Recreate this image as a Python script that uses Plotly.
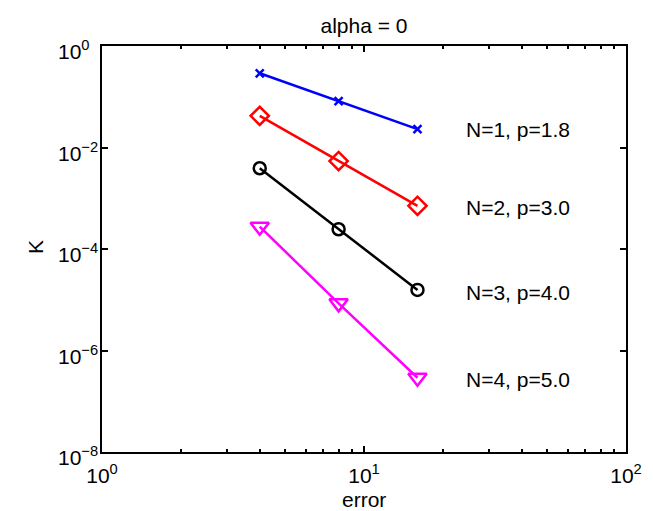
import plotly.graph_objects as go
import math

# ---- data ----
error = [4, 8, 16]
K_N1 = [0.29, 0.082, 0.023]
K_N2 = [0.042, 0.0054, 7.1e-4]
K_N3 = [3.9e-3, 2.45e-4, 1.56e-5]
K_N4 = [2.75e-4, 8.5e-6, 2.9e-7]
series_labels = ["N=1, p=1.8", "N=2, p=3.0", "N=3, p=4.0", "N=4, p=5.0"]
x_tick_vals = [1, 10, 100]
x_tick_text = ["10<sup>0</sup>", "10<sup>1</sup>", "10<sup>2</sup>"]
y_tick_vals = [1, 1e-2, 1e-4, 1e-6, 1e-8]
y_tick_text = ["10<sup>0</sup>", "10<sup>−2</sup>", "10<sup>−4</sup>", "10<sup>−6</sup>", "10<sup>−8</sup>"]
title_text = "alpha = 0"
x_title = "error"
y_title = "K"

FONT = "Liberation Sans, Arial, Helvetica, sans-serif"
FS = 21
W, H = 653, 511
L, R, T, B = 102, 27, 46, 59
PW, PH = W - L - R, H - T - B

series = [
    (K_N1, "#0000FF", "x-thin-open", 8),
    (K_N2, "#FF0000", "diamond-open", 14),
    (K_N3, "#000000", "circle-open", 12),
    (K_N4, "#FF00FF", "triangle-down-open", 16),
]

fig = go.Figure()
for (ys, col, sym, sz), name in zip(series, series_labels):
    fig.add_trace(go.Scatter(
        x=error, y=ys, mode="lines+markers", name=name,
        line=dict(color=col, width=2.5),
        marker=dict(symbol=sym, size=sz, color=col, line=dict(color=col, width=2.5)),
        showlegend=False,
    ))

# text labels next to last point of each series
label_y_log = [-1.655, -3.19, -4.85, -6.58]
for name, ylog in zip(series_labels, label_y_log):
    fig.add_annotation(x=1.382, y=ylog, xref="x", yref="y", text=name,
                       showarrow=False, xanchor="left", yanchor="middle",
                       font=dict(family=FONT, size=FS, color="black"))

# y tick labels, left aligned like MATLAB
for v, t in zip(y_tick_vals, y_tick_text):
    fig.add_annotation(x=(56 - L) / PW, y=math.log10(v), xref="paper", yref="y",
                       text=t, showarrow=False, xanchor="left", yanchor="middle",
                       yshift=-4, font=dict(family=FONT, size=FS, color="black"))

# axis titles
fig.add_annotation(x=0.5, y=-(499 - (T + PH)) / PH, xref="paper", yref="paper",
                   text=x_title, showarrow=False, xanchor="center", yanchor="middle",
                   font=dict(family=FONT, size=FS, color="black"))
fig.add_annotation(x=-(L - 35) / PW, y=1 - (247 - T) / PH, xref="paper", yref="paper",
                   text=y_title, showarrow=False, xanchor="center", yanchor="middle",
                   textangle=-90, font=dict(family=FONT, size=FS, color="black"))

minor_x = [a * 10 ** d for d in range(0, 2) for a in range(2, 10)]

fig.update_layout(
    width=W, height=H,
    margin=dict(l=L, r=R, t=T, b=B, pad=0),
    paper_bgcolor="white", plot_bgcolor="white",
    font=dict(family=FONT, size=FS, color="black"),
    title=dict(text=title_text, x=(L + PW / 2) / W, xanchor="center",
               y=1 - 26 / H, yanchor="middle", xref="container", yref="container",
               font=dict(family=FONT, size=FS, color="black")),
    xaxis=dict(type="log", range=[0, 2], showgrid=False, zeroline=False,
               showline=True, linecolor="black", linewidth=2, mirror="allticks",
               ticks="inside", ticklen=6, tickwidth=1.5, tickcolor="black",
               tickvals=x_tick_vals, ticktext=x_tick_text,
               tickfont=dict(family=FONT, size=FS), ticklabelstandoff=4,
               minor=dict(ticks="inside", ticklen=3, tickwidth=1.5, tickcolor="black",
                          tickvals=minor_x, showgrid=False)),
    yaxis=dict(type="log", range=[-8, 0], showgrid=False, zeroline=False,
               showline=True, linecolor="black", linewidth=2, mirror="allticks",
               ticks="inside", ticklen=6, tickwidth=1.5, tickcolor="black",
               tickvals=y_tick_vals, showticklabels=False),
)

fig.write_html("out.html", config={"displayModeBar": False},
               post_script="document.body.style.margin='0';document.body.style.overflow='hidden';")
